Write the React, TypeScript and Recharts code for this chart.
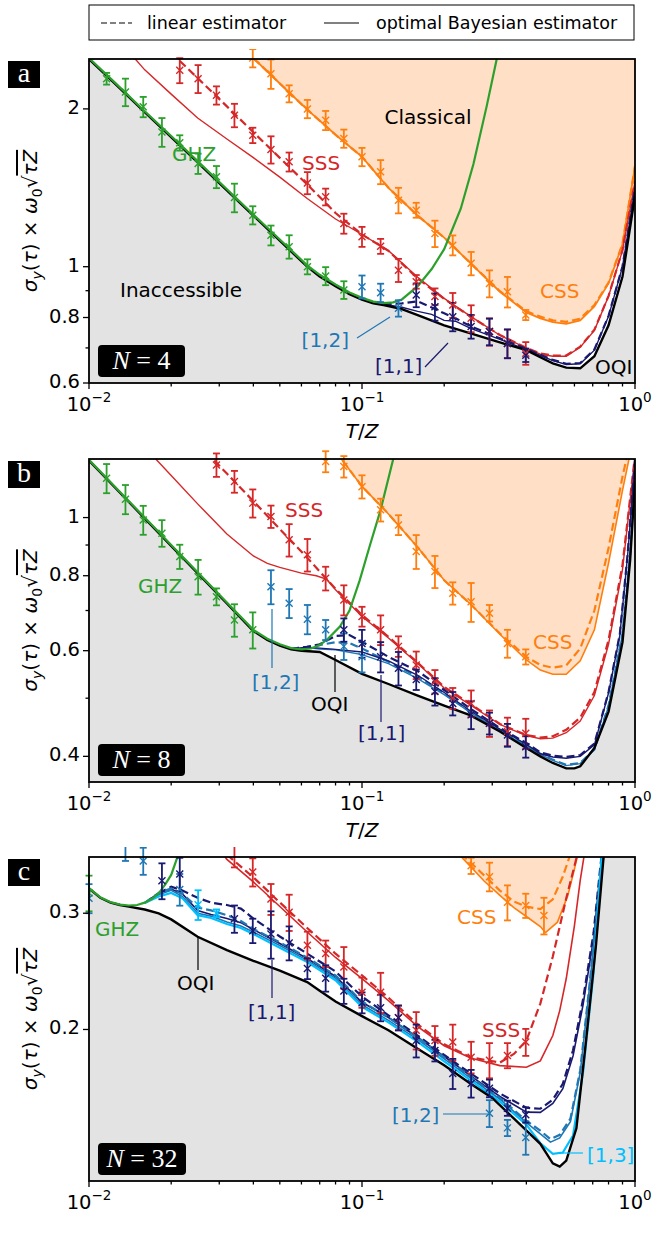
import React from 'react';
import { ComposedChart, Line, Area, Scatter, ErrorBar, XAxis, YAxis } from 'recharts';

type Pt = [number, number];
type EPt = [number, number, number];

// axis ticks
const xTicks = [0.01, 0.02, 0.03, 0.04, 0.05, 0.06, 0.07, 0.08, 0.09, 0.1, 0.2, 0.3, 0.4, 0.5, 0.6, 0.7, 0.8, 0.9, 1];
const xMajor = [0.01, 0.1, 1];
const xMajorExp = ['\u22122', '\u22121', '0'];

// ---------- panel a (N = 4) ----------
const a_ghz: Pt[] = [[0.01, 2.5], [0.0125, 2.24], [0.016, 1.98], [0.02, 1.775], [0.025, 1.59], [0.032, 1.405], [0.04, 1.258], [0.05, 1.127], [0.063, 1.006], [0.07, 0.965], [0.08, 0.925], [0.09, 0.893], [0.1, 0.872], [0.11, 0.858], [0.12, 0.852], [0.13, 0.855], [0.14, 0.866], [0.16, 0.918], [0.18, 0.99], [0.2, 1.08], [0.23, 1.29], [0.256, 1.57], [0.286, 2.02], [0.311, 2.48], [0.33, 2.9]];
const a_oqi: Pt[] = [[0.01, 2.49], [0.0125, 2.23], [0.016, 1.972], [0.02, 1.767], [0.025, 1.582], [0.032, 1.398], [0.04, 1.252], [0.05, 1.121], [0.063, 1.0], [0.07, 0.958], [0.08, 0.918], [0.09, 0.886], [0.1, 0.865], [0.11, 0.851], [0.12, 0.845], [0.14, 0.83], [0.16, 0.808], [0.2, 0.773], [0.25, 0.746], [0.32, 0.717], [0.4, 0.693], [0.45, 0.672], [0.5, 0.654], [0.56, 0.642], [0.63, 0.64], [0.71, 0.675], [0.8, 0.773], [0.9, 0.958], [1.0, 1.367]];
const a_css: Pt[] = [[0.035, 2.7], [0.04, 2.5], [0.05, 2.236], [0.063, 1.993], [0.08, 1.785], [0.1, 1.62], [0.125, 1.414], [0.16, 1.251], [0.2, 1.136], [0.25, 1.015], [0.32, 0.896], [0.4, 0.818], [0.45, 0.797], [0.5, 0.784], [0.56, 0.778], [0.63, 0.79], [0.71, 0.84], [0.8, 0.929], [0.9, 1.103], [1.0, 1.553]];
const a_cssL: Pt[] = [[0.035, 2.7], [0.04, 2.5], [0.05, 2.236], [0.063, 1.993], [0.08, 1.785], [0.1, 1.62], [0.125, 1.414], [0.16, 1.251], [0.2, 1.136], [0.25, 1.015], [0.32, 0.898], [0.4, 0.822], [0.45, 0.803], [0.5, 0.79], [0.56, 0.785], [0.63, 0.796], [0.71, 0.845], [0.8, 0.933], [0.9, 1.106], [1.0, 1.556]];
const a_sss: Pt[] = [[0.0125, 2.75], [0.016, 2.374], [0.02, 2.134], [0.025, 1.921], [0.032, 1.752], [0.04, 1.615], [0.05, 1.482], [0.063, 1.349], [0.08, 1.233], [0.1, 1.152], [0.125, 1.073], [0.16, 0.955], [0.2, 0.87], [0.25, 0.804], [0.32, 0.74], [0.4, 0.699], [0.45, 0.681], [0.5, 0.675], [0.56, 0.675], [0.63, 0.702], [0.71, 0.756], [0.8, 0.878], [0.9, 1.074], [1.0, 1.454]];
const a_sssL: Pt[] = [[0.02, 2.56], [0.025, 2.29], [0.032, 2.022], [0.04, 1.805], [0.05, 1.613], [0.063, 1.435], [0.08, 1.266], [0.1, 1.152], [0.125, 1.072], [0.16, 0.95], [0.2, 0.868], [0.25, 0.803], [0.32, 0.741], [0.4, 0.7], [0.45, 0.683], [0.5, 0.677], [0.56, 0.677], [0.63, 0.704], [0.71, 0.758], [0.8, 0.88], [0.9, 1.076], [1.0, 1.456]];
const a_11: Pt[] = [[0.12, 0.848], [0.14, 0.837], [0.16, 0.822], [0.18, 0.811], [0.2, 0.79], [0.22, 0.787], [0.25, 0.763], [0.32, 0.727], [0.4, 0.695], [0.45, 0.677], [0.5, 0.662], [0.56, 0.651], [0.63, 0.653], [0.71, 0.693], [0.8, 0.804], [0.9, 1.0], [1.0, 1.41]];
const a_11L: Pt[] = [[0.12, 0.848], [0.14, 0.851], [0.16, 0.859], [0.18, 0.836], [0.2, 0.815], [0.22, 0.797], [0.25, 0.77], [0.32, 0.73], [0.4, 0.697], [0.45, 0.679], [0.5, 0.664], [0.56, 0.653], [0.63, 0.655], [0.71, 0.695], [0.8, 0.806], [0.9, 1.002], [1.0, 1.412]];
const a_ghzP: EPt[] = [[0.0116, 2.284, 0.059], [0.0136, 2.154, 0.13], [0.0158, 2.018, 0.09], [0.0185, 1.807, 0.114], [0.0215, 1.723, 0.058], [0.0251, 1.573, 0.07], [0.0293, 1.484, 0.072], [0.0341, 1.355, 0.085], [0.0398, 1.254, 0.05], [0.0464, 1.148, 0.05], [0.0541, 1.092, 0.056], [0.0631, 1.0, 0.033], [0.0736, 0.96, 0.038], [0.0858, 0.903, 0.035]];
const a_sssP: EPt[] = [[0.0215, 2.369, 0.13], [0.0251, 2.284, 0.14], [0.0293, 2.123, 0.085], [0.0341, 1.945, 0.1], [0.0398, 1.781, 0.06], [0.0464, 1.673, 0.1], [0.0541, 1.585, 0.066], [0.0631, 1.445, 0.07], [0.0736, 1.359, 0.05], [0.0858, 1.209, 0.053], [0.1, 1.141, 0.05], [0.117, 1.094, 0.036], [0.136, 0.985, 0.05], [0.158, 0.936, 0.028], [0.185, 0.877, 0.032], [0.215, 0.845, 0.046], [0.251, 0.797, 0.047], [0.293, 0.752, 0.045], [0.341, 0.714, 0.045], [0.398, 0.684, 0.034]];
const a_cssP: EPt[] = [[0.0398, 2.5, 0.1], [0.0464, 2.334, 0.15], [0.0541, 2.138, 0.08], [0.0631, 2.0, 0.08], [0.0736, 1.902, 0.08], [0.0858, 1.756, 0.07], [0.1, 1.62, 0.065], [0.117, 1.517, 0.08], [0.136, 1.339, 0.075], [0.158, 1.282, 0.042], [0.185, 1.157, 0.067], [0.215, 1.099, 0.048], [0.251, 1.015, 0.052], [0.293, 0.929, 0.055], [0.341, 0.896, 0.06], [0.398, 0.809, 0.018]];
const a_12P: EPt[] = [[0.1, 0.916, 0.046], [0.117, 0.892, 0.036], [0.136, 0.833, 0.03]];
const a_11P: EPt[] = [[0.158, 0.883, 0.046], [0.185, 0.839, 0.05], [0.215, 0.803, 0.05], [0.251, 0.769, 0.04], [0.293, 0.752, 0.044], [0.341, 0.714, 0.045], [0.398, 0.678, 0.02]];

// ---------- panel b (N = 8) ----------
const b_ghz: Pt[] = [[0.01, 1.248], [0.0125, 1.123], [0.016, 1.0], [0.02, 0.9], [0.025, 0.811], [0.032, 0.722], [0.04, 0.65], [0.045, 0.628], [0.05, 0.615], [0.055, 0.606], [0.06, 0.603], [0.065, 0.605], [0.07, 0.613], [0.075, 0.628], [0.083, 0.658], [0.09, 0.7], [0.098, 0.785], [0.107, 0.9], [0.117, 1.03], [0.13, 1.25], [0.14, 1.42]];
const b_oqi: Pt[] = [[0.01, 1.245], [0.0125, 1.12], [0.016, 0.997], [0.02, 0.897], [0.025, 0.808], [0.032, 0.719], [0.04, 0.647], [0.045, 0.625], [0.05, 0.612], [0.055, 0.603], [0.06, 0.6], [0.07, 0.597], [0.08, 0.579], [0.1, 0.549], [0.125, 0.528], [0.16, 0.505], [0.2, 0.486], [0.25, 0.468], [0.32, 0.44], [0.4, 0.413], [0.45, 0.4], [0.5, 0.39], [0.56, 0.382], [0.6, 0.382], [0.63, 0.385], [0.71, 0.413], [0.8, 0.475], [0.9, 0.62], [0.96, 0.85], [1.0, 1.15]];
const b_css: Pt[] = [[0.08, 1.29], [0.1, 1.127], [0.125, 1.014], [0.16, 0.892], [0.2, 0.786], [0.25, 0.717], [0.32, 0.639], [0.4, 0.579], [0.45, 0.557], [0.5, 0.548], [0.56, 0.548], [0.63, 0.577], [0.71, 0.65], [0.8, 0.84], [0.9, 1.11], [1.0, 1.4]];
const b_cssL: Pt[] = [[0.08, 1.29], [0.1, 1.127], [0.125, 1.014], [0.16, 0.892], [0.2, 0.786], [0.25, 0.717], [0.32, 0.641], [0.4, 0.586], [0.45, 0.568], [0.5, 0.562], [0.56, 0.567], [0.63, 0.605], [0.71, 0.7], [0.8, 0.89], [0.9, 1.17], [1.0, 1.45]];
const b_sss: Pt[] = [[0.016, 1.31], [0.02, 1.175], [0.025, 1.054], [0.032, 0.939], [0.04, 0.863], [0.045, 0.839], [0.05, 0.826], [0.06, 0.808], [0.068, 0.8], [0.074, 0.79], [0.08, 0.758], [0.1, 0.684], [0.125, 0.63], [0.16, 0.571], [0.2, 0.52], [0.25, 0.487], [0.32, 0.452], [0.4, 0.433], [0.45, 0.428], [0.5, 0.429], [0.56, 0.438], [0.63, 0.458], [0.71, 0.505], [0.8, 0.615], [0.9, 0.82], [1.0, 1.26]];
const b_sssL: Pt[] = [[0.025, 1.33], [0.032, 1.184], [0.04, 1.065], [0.05, 0.957], [0.063, 0.857], [0.08, 0.761], [0.1, 0.688], [0.125, 0.633], [0.16, 0.573], [0.2, 0.522], [0.25, 0.489], [0.32, 0.453], [0.4, 0.434], [0.45, 0.43], [0.5, 0.432], [0.56, 0.443], [0.63, 0.464], [0.71, 0.512], [0.8, 0.625], [0.9, 0.834], [1.0, 1.27]];
const b_11: Pt[] = [[0.055, 0.604], [0.063, 0.608], [0.07, 0.606], [0.08, 0.603], [0.1, 0.597], [0.125, 0.577], [0.16, 0.546], [0.2, 0.511], [0.25, 0.476], [0.32, 0.444], [0.4, 0.419], [0.45, 0.404], [0.5, 0.399], [0.56, 0.397], [0.63, 0.4], [0.71, 0.418], [0.8, 0.51], [0.88, 0.637], [0.94, 0.867], [1.0, 1.24]];
const b_11L: Pt[] = [[0.055, 0.604], [0.063, 0.609], [0.07, 0.615], [0.08, 0.635], [0.09, 0.637], [0.1, 0.621], [0.125, 0.586], [0.16, 0.555], [0.2, 0.516], [0.25, 0.48], [0.32, 0.446], [0.4, 0.421], [0.45, 0.406], [0.5, 0.401], [0.56, 0.399], [0.63, 0.402], [0.71, 0.42], [0.8, 0.512], [0.88, 0.64], [0.94, 0.87], [1.0, 1.25]];
const b_12: Pt[] = [[0.055, 0.604], [0.063, 0.607], [0.07, 0.604], [0.08, 0.602], [0.1, 0.591], [0.125, 0.571], [0.16, 0.539], [0.2, 0.507], [0.25, 0.473], [0.32, 0.441], [0.4, 0.416], [0.45, 0.403], [0.5, 0.394], [0.56, 0.386], [0.63, 0.389], [0.71, 0.41], [0.8, 0.485], [0.9, 0.64], [0.96, 0.87], [1.0, 1.17]];
const b_12L: Pt[] = [[0.055, 0.604], [0.063, 0.609], [0.07, 0.613], [0.08, 0.62], [0.09, 0.618], [0.1, 0.605], [0.125, 0.575], [0.16, 0.543], [0.2, 0.509], [0.25, 0.474], [0.32, 0.442], [0.4, 0.417], [0.45, 0.404], [0.5, 0.395], [0.56, 0.387], [0.63, 0.39], [0.71, 0.411], [0.8, 0.486], [0.9, 0.641], [0.96, 0.871], [1.0, 1.171]];
const b_ghzP: EPt[] = [[0.0116, 1.163, 0.065], [0.0136, 1.073, 0.06], [0.0158, 0.991, 0.055], [0.0185, 0.942, 0.048], [0.0215, 0.861, 0.04], [0.0251, 0.797, 0.053], [0.0293, 0.738, 0.024], [0.0341, 0.675, 0.042], [0.0398, 0.65, 0.045]];
const b_sssP: EPt[] = [[0.0293, 1.224, 0.055], [0.0341, 1.148, 0.048], [0.0398, 1.057, 0.057], [0.0464, 1.004, 0.043], [0.0541, 0.918, 0.057], [0.0631, 0.867, 0.054], [0.0736, 0.792, 0.036], [0.0858, 0.729, 0.042], [0.1, 0.684, 0.026], [0.117, 0.65, 0.037], [0.136, 0.61, 0.024], [0.158, 0.568, 0.03], [0.185, 0.533, 0.024], [0.215, 0.5, 0.02], [0.251, 0.49, 0.025], [0.293, 0.454, 0.023], [0.341, 0.44, 0.024], [0.398, 0.437, 0.025]];
const b_cssP: EPt[] = [[0.0736, 1.24, 0.05], [0.0858, 1.216, 0.05], [0.1, 1.126, 0.05], [0.117, 1.03, 0.045], [0.136, 0.972, 0.037], [0.158, 0.878, 0.057], [0.185, 0.813, 0.05], [0.215, 0.748, 0.032], [0.251, 0.724, 0.054], [0.293, 0.693, 0.022], [0.341, 0.617, 0.033], [0.398, 0.586, 0.017]];
const b_12P: EPt[] = [[0.0464, 0.767, 0.05], [0.0541, 0.72, 0.04], [0.0631, 0.677, 0.038], [0.0736, 0.65, 0.025], [0.0858, 0.61, 0.031], [0.1, 0.586, 0.034]];
const b_11P: EPt[] = [[0.0858, 0.65, 0.029], [0.1, 0.617, 0.033], [0.117, 0.586, 0.034], [0.136, 0.561, 0.036], [0.158, 0.537, 0.021], [0.185, 0.513, 0.027], [0.215, 0.49, 0.022], [0.251, 0.469, 0.025], [0.293, 0.454, 0.019], [0.341, 0.434, 0.019], [0.398, 0.415, 0.017]];

// ---------- panel c (N = 32) ----------
const c_ghz: Pt[] = [[0.01, 0.3276], [0.011, 0.3172], [0.012, 0.3118], [0.013, 0.3092], [0.014, 0.3082], [0.015, 0.3087], [0.016, 0.3113], [0.017, 0.3155], [0.018, 0.3216], [0.019, 0.3314], [0.02, 0.3429], [0.021, 0.3633], [0.022, 0.385]];
const c_oqi: Pt[] = [[0.01, 0.3272], [0.011, 0.3166], [0.012, 0.3113], [0.013, 0.3087], [0.014, 0.307], [0.016, 0.3039], [0.018, 0.2999], [0.02, 0.2936], [0.025, 0.2764], [0.032, 0.2638], [0.04, 0.2541], [0.05, 0.2455], [0.063, 0.236], [0.07, 0.229], [0.08, 0.2205], [0.1, 0.2095], [0.125, 0.1995], [0.16, 0.187], [0.2, 0.1765], [0.25, 0.1655], [0.3, 0.1575], [0.38, 0.1435], [0.45, 0.1342], [0.5, 0.1254], [0.53, 0.124], [0.56, 0.1266], [0.61, 0.1417], [0.66, 0.1906], [0.72, 0.269], [0.765, 0.36], [0.8, 0.43], [0.9, 0.7], [1.0, 1.1]];
const c_css: Pt[] = [[0.2, 0.39], [0.22, 0.373], [0.25, 0.353], [0.28, 0.3357], [0.32, 0.3192], [0.36, 0.306], [0.4, 0.2966], [0.45, 0.2864], [0.47, 0.2805], [0.52, 0.2908], [0.567, 0.3187], [0.6, 0.35], [0.616, 0.367], [0.65, 0.4]];
const c_cssL: Pt[] = [[0.2, 0.392], [0.22, 0.375], [0.25, 0.358], [0.28, 0.3423], [0.32, 0.3247], [0.36, 0.3125], [0.4, 0.307], [0.45, 0.3044], [0.5, 0.315], [0.544, 0.341], [0.578, 0.367], [0.6, 0.39]];
const c_sss: Pt[] = [[0.03, 0.375], [0.032, 0.362], [0.04, 0.3346], [0.05, 0.3071], [0.063, 0.281], [0.08, 0.2571], [0.1, 0.2389], [0.125, 0.2212], [0.16, 0.202], [0.2, 0.189], [0.25, 0.181], [0.32, 0.1763], [0.4, 0.1753], [0.45, 0.1792], [0.5, 0.1958], [0.53, 0.2136], [0.56, 0.2389], [0.6, 0.2874], [0.63, 0.3364], [0.66, 0.38]];
const c_sssL: Pt[] = [[0.03, 0.38], [0.032, 0.368], [0.04, 0.34], [0.05, 0.3115], [0.063, 0.285], [0.08, 0.2605], [0.1, 0.2415], [0.125, 0.2235], [0.16, 0.2035], [0.2, 0.19], [0.25, 0.1815], [0.32, 0.1782], [0.36, 0.1836], [0.4, 0.1924], [0.45, 0.2189], [0.5, 0.258], [0.56, 0.316], [0.63, 0.3829]];
const c_11: Pt[] = [[0.016, 0.311], [0.018, 0.322], [0.02, 0.3263], [0.022, 0.3208], [0.025, 0.3028], [0.028, 0.2986], [0.032, 0.2945], [0.036, 0.2903], [0.04, 0.2835], [0.05, 0.2699], [0.063, 0.2562], [0.08, 0.2406], [0.1, 0.2199], [0.125, 0.2085], [0.16, 0.1945], [0.2, 0.182], [0.25, 0.1701], [0.32, 0.1583], [0.4, 0.1499], [0.45, 0.1498], [0.5, 0.1545], [0.544, 0.1627], [0.593, 0.1824], [0.645, 0.2177], [0.705, 0.2745], [0.744, 0.342], [0.77, 0.39]];
const c_11L: Pt[] = [[0.018, 0.322], [0.02, 0.329], [0.022, 0.3248], [0.025, 0.3166], [0.028, 0.3113], [0.032, 0.3087], [0.036, 0.3049], [0.04, 0.2945], [0.05, 0.2766], [0.063, 0.2606], [0.08, 0.2448], [0.1, 0.2243], [0.125, 0.2101], [0.16, 0.1958], [0.2, 0.183], [0.25, 0.1716], [0.32, 0.16], [0.4, 0.1522], [0.45, 0.1517], [0.5, 0.1566], [0.544, 0.1655], [0.593, 0.186], [0.645, 0.222], [0.705, 0.28], [0.744, 0.348], [0.77, 0.395]];
const c_12: Pt[] = [[0.016, 0.311], [0.018, 0.32], [0.02, 0.325], [0.022, 0.318], [0.025, 0.3], [0.028, 0.297], [0.032, 0.291], [0.036, 0.287], [0.04, 0.281], [0.05, 0.268], [0.063, 0.2545], [0.08, 0.239], [0.1, 0.218], [0.125, 0.2065], [0.16, 0.193], [0.2, 0.1805], [0.25, 0.1688], [0.32, 0.1568], [0.4, 0.1445], [0.45, 0.139], [0.49, 0.135], [0.53, 0.137], [0.58, 0.145], [0.63, 0.172], [0.68, 0.23], [0.74, 0.327], [0.8, 0.45]];
const c_12L: Pt[] = [[0.016, 0.311], [0.018, 0.322], [0.02, 0.327], [0.022, 0.321], [0.025, 0.306], [0.028, 0.303], [0.032, 0.298], [0.036, 0.292], [0.04, 0.284], [0.05, 0.271], [0.063, 0.257], [0.08, 0.2415], [0.1, 0.2205], [0.125, 0.2085], [0.16, 0.1945], [0.2, 0.1815], [0.25, 0.1695], [0.32, 0.1575], [0.4, 0.1455], [0.45, 0.1405], [0.49, 0.1365], [0.53, 0.1385], [0.58, 0.1465], [0.63, 0.1735], [0.68, 0.232], [0.74, 0.33], [0.8, 0.45]];
const c_13: Pt[] = [[0.016, 0.311], [0.018, 0.318], [0.02, 0.322], [0.022, 0.316], [0.025, 0.298], [0.028, 0.295], [0.032, 0.289], [0.036, 0.285], [0.04, 0.279], [0.05, 0.266], [0.063, 0.253], [0.08, 0.2375], [0.1, 0.2165], [0.125, 0.205], [0.16, 0.1915], [0.2, 0.179], [0.25, 0.1675], [0.32, 0.1555], [0.4, 0.1435], [0.45, 0.1345], [0.5, 0.1296], [0.544, 0.1302], [0.593, 0.1382], [0.645, 0.172], [0.705, 0.244], [0.755, 0.367]];
const c_ghzP: EPt[] = [[0.01, 0.322, 0.02]];
const c_sssP: EPt[] = [[0.0341, 0.372, 0.02], [0.0398, 0.3463, 0.017], [0.0464, 0.3152, 0.017], [0.0541, 0.301, 0.019], [0.0631, 0.2683, 0.013], [0.0736, 0.2607, 0.012], [0.0858, 0.2486, 0.018], [0.1, 0.2277, 0.012], [0.117, 0.2277, 0.016], [0.136, 0.2084, 0.009], [0.158, 0.1995, 0.013], [0.185, 0.1924, 0.01], [0.215, 0.1914, 0.012], [0.251, 0.1816, 0.01], [0.293, 0.1797, 0.011], [0.341, 0.1827, 0.008], [0.398, 0.1914, 0.009]];
const c_cssP: EPt[] = [[0.251, 0.354, 0.01], [0.293, 0.3408, 0.017], [0.341, 0.3116, 0.019], [0.398, 0.3081, 0.013], [0.464, 0.2976, 0.019]];
const c_11P: EPt[] = [[0.0185, 0.336, 0.021], [0.0215, 0.344, 0.02], [0.0341, 0.2942, 0.014], [0.0398, 0.2823, 0.012], [0.0464, 0.279, 0.023], [0.0541, 0.2705, 0.016], [0.0631, 0.2474, 0.009], [0.0736, 0.2392, 0.011], [0.0858, 0.2287, 0.01], [0.1, 0.2196, 0.008], [0.117, 0.2158, 0.01], [0.136, 0.2084, 0.009], [0.158, 0.1924, 0.011], [0.185, 0.1859, 0.007], [0.215, 0.1715, 0.009], [0.251, 0.1657, 0.008], [0.293, 0.1629, 0.005], [0.341, 0.152, 0.004], [0.398, 0.1485, 0.004]];
const c_12P: EPt[] = [[0.01, 0.316, 0.016], [0.0136, 0.372, 0.012], [0.0158, 0.36, 0.017], [0.0215, 0.326, 0.018], [0.293, 0.1493, 0.007], [0.341, 0.1419, 0.004], [0.398, 0.1372, 0.008]];
const c_13P: EPt[] = [[0.0251, 0.309, 0.016], [0.0293, 0.3, 0.004]];

const GREEN = '#2ca02c';
const RED = '#d62728';
const ORANGE = '#ff7f0e';
const BLUE = '#1f77b4';
const NAVY = '#191970';
const SKY = '#00bfff';
const GRAY_FILL = '#e3e3e3';
const ORANGE_FILL = '#ffdfc6';
const FONT = 'DejaVu Sans';
const TICK_FS = 19.5;

const rows = (p: Pt[]) => p.map(([t, v]) => ({ t, v }));
const erows = (p: EPt[]) => p.map(([t, v, e]) => ({ t, v, e }));

interface Curve { data: Pt[]; color: string; dashed?: boolean; w: number }
interface PanelDef {
  top: number; h: number; domain: [number, number];
  yMajor: number[]; yLabels: string[]; yMinor: number[];
  oqi: Pt[]; css: Pt[]; curves: Curve[]; points: { data: EPt[]; color: string }[];
  axisH: number;
}

const panels: PanelDef[] = [
  {
    top: 59, h: 324, domain: [0.6, 2.49], yMajor: [0.6, 0.8, 1, 2], yLabels: ['0.6', '0.8', '1', '2'], yMinor: [0.7, 0.9],
    oqi: a_oqi, css: a_css, axisH: 60,
    curves: [
      { data: a_css, color: ORANGE, w: 1.8 }, { data: a_cssL, color: ORANGE, dashed: true, w: 2.2 },
      { data: a_sss, color: RED, w: 1.4 }, { data: a_sssL, color: RED, dashed: true, w: 2.2 },
      { data: a_11, color: NAVY, w: 1.4 }, { data: a_11L, color: NAVY, dashed: true, w: 2.2 },
      { data: a_oqi, color: '#000', w: 2.4 }, { data: a_ghz, color: GREEN, w: 2.2 },
    ],
    points: [{ data: a_ghzP, color: GREEN }, { data: a_cssP, color: ORANGE }, { data: a_sssP, color: RED }, { data: a_12P, color: BLUE }, { data: a_11P, color: NAVY }],
  },
  {
    top: 459, h: 323, domain: [0.3625, 1.252], yMajor: [0.4, 0.6, 0.8, 1], yLabels: ['0.4', '0.6', '0.8', '1'], yMinor: [0.5, 0.7, 0.9],
    oqi: b_oqi, css: b_css, axisH: 60,
    curves: [
      { data: b_css, color: ORANGE, w: 1.6 }, { data: b_cssL, color: ORANGE, dashed: true, w: 2.2 },
      { data: b_sss, color: RED, w: 1.4 }, { data: b_sssL, color: RED, dashed: true, w: 2.2 },
      { data: b_12, color: BLUE, w: 1.4 }, { data: b_12L, color: BLUE, dashed: true, w: 2.2 },
      { data: b_11, color: NAVY, w: 1.4 }, { data: b_11L, color: NAVY, dashed: true, w: 2.2 },
      { data: b_oqi, color: '#000', w: 2.4 }, { data: b_ghz, color: GREEN, w: 2.2 },
    ],
    points: [{ data: b_ghzP, color: GREEN }, { data: b_cssP, color: ORANGE }, { data: b_sssP, color: RED }, { data: b_12P, color: BLUE }, { data: b_11P, color: NAVY }],
  },
  {
    top: 857, h: 324, domain: [0.1179, 0.365], yMajor: [0.2, 0.3], yLabels: ['0.2', '0.3'], yMinor: [],
    oqi: c_oqi, css: c_css, axisH: 50,
    curves: [
      { data: c_css, color: ORANGE, w: 1.6 }, { data: c_cssL, color: ORANGE, dashed: true, w: 2.2 },
      { data: c_sss, color: RED, w: 1.6 }, { data: c_sssL, color: RED, dashed: true, w: 2.2 },
      { data: c_11, color: NAVY, w: 1.6 }, { data: c_11L, color: NAVY, dashed: true, w: 2.2 },
      { data: c_12, color: BLUE, w: 1.6 }, { data: c_12L, color: BLUE, dashed: true, w: 2.2 },
      { data: c_13, color: SKY, w: 2.2 },
      { data: c_oqi, color: '#000', w: 2.4 }, { data: c_ghz, color: GREEN, w: 2.2 },
    ],
    points: [{ data: c_ghzP, color: GREEN }, { data: c_cssP, color: ORANGE }, { data: c_sssP, color: RED }, { data: c_12P, color: BLUE }, { data: c_13P, color: SKY }, { data: c_11P, color: NAVY }],
  },
];

const isMajorX = (v: number) => xMajor.findIndex((m) => Math.abs(m - v) < 1e-9);

const XTick = ({ x, y, payload }: any) => {
  const i = isMajorX(payload.value);
  return (
    <g>
      <line x1={x} x2={x} y1={y} y2={y + (i >= 0 ? 6 : 3.5)} stroke="#000" strokeWidth={1.3} />
      {i >= 0 && (
        <text x={x} y={y + 28} textAnchor="middle" fontSize={TICK_FS} fontFamily={FONT} fill="#000">
          10<tspan dy={-9} fontSize={13.5}>{xMajorExp[i]}</tspan>
        </text>
      )}
    </g>
  );
};

const makeYTick = (p: PanelDef) => ({ x, y, payload }: any) => {
  const i = p.yMajor.findIndex((m) => Math.abs(m - payload.value) < 1e-9);
  return (
    <g>
      <line x1={x - (i >= 0 ? 6 : 3.5)} x2={x} y1={y} y2={y} stroke="#000" strokeWidth={1.3} />
      {i >= 0 && (
        <text x={x - 9} y={y + 5} textAnchor="end" fontSize={TICK_FS} fontFamily={FONT} fill="#000">{p.yLabels[i]}</text>
      )}
    </g>
  );
};

const Cross = ({ cx, cy, color }: any) => (
  <path d={`M${cx - 3.5},${cy - 3.5}L${cx + 3.5},${cy + 3.5}M${cx - 3.5},${cy + 3.5}L${cx + 3.5},${cy - 3.5}`} stroke={color} strokeWidth={1.4} fill="none" />
);

const PanelChart = ({ p }: { p: PanelDef }) => (
  <div style={{ position: 'absolute', left: 0, top: p.top - 10 }}>
    <ComposedChart width={652} height={10 + p.h + p.axisH} margin={{ top: 10, right: 17, bottom: 0, left: 0 }}>
      <XAxis type="number" dataKey="t" scale="log" domain={[0.01, 1]} allowDataOverflow ticks={xTicks} interval={0}
        tick={(props: any) => <XTick {...props} />} tickLine={false} axisLine={false} tickSize={0} tickMargin={0} height={p.axisH} />
      <YAxis type="number" dataKey="v" scale="log" domain={p.domain} allowDataOverflow ticks={[...p.yMajor, ...p.yMinor]} interval={0}
        tick={makeYTick(p)} tickLine={false} axisLine={false} tickSize={0} tickMargin={0} width={89} />
      <Area data={rows(p.oqi)} dataKey="v" type="linear" fill={GRAY_FILL} fillOpacity={1} stroke="none" isAnimationActive={false} />
      <Area data={rows(p.css)} dataKey="v" type="linear" baseValue="dataMax" fill={ORANGE_FILL} fillOpacity={1} stroke="none" isAnimationActive={false} />
      {p.curves.map((c, i) => (
        <Line key={i} data={rows(c.data)} dataKey="v" type="linear" stroke={c.color} strokeWidth={c.w}
          strokeDasharray={c.dashed ? '8 4' : undefined} dot={false} activeDot={false} isAnimationActive={false} />
      ))}
      {p.points.map((s, i) => (
        <Scatter key={'s' + i} data={erows(s.data)} dataKey="v" fill={s.color} isAnimationActive={false}
          shape={(props: any) => <Cross {...props} color={s.color} />}>
          <ErrorBar dataKey="e" direction="y" width={3.5} stroke={s.color} strokeWidth={1.8} />
        </Scatter>
      ))}
    </ComposedChart>
  </div>
);

const YLabel = ({ cy }: { cy: number }) => (
  <text transform={`translate(37,${cy}) rotate(-90)`} textAnchor="middle" fontSize={20} fontFamily={FONT} fill="#000">
    <tspan fontStyle="italic">σ</tspan>
    <tspan fontStyle="italic" fontSize={14} dy={5}>y</tspan>
    <tspan dy={-5}>(</tspan>
    <tspan fontStyle="italic">τ</tspan>
    <tspan>{') × '}</tspan>
    <tspan fontStyle="italic">ω</tspan>
    <tspan fontSize={14} dy={5}>0</tspan>
    <tspan dy={-5}>√</tspan>
    <tspan fontStyle="italic" style={{ textDecoration: 'overline' }}>τZ</tspan>
  </text>
);

const notes = [
  { s: 'Classical', x: 428, y: 124, c: '#000', a: 'middle' },
  { s: 'SSS', x: 302, y: 170, c: RED, a: 'start' },
  { s: 'GHZ', x: 172, y: 161, c: GREEN, a: 'start' },
  { s: 'Inaccessible', x: 120, y: 297, c: '#000', a: 'start' },
  { s: 'CSS', x: 540, y: 298, c: ORANGE, a: 'start' },
  { s: 'OQI', x: 595, y: 374, c: '#000', a: 'start' },
  { s: '[1,2]', x: 349, y: 347, c: BLUE, a: 'end' },
  { s: '[1,1]', x: 375, y: 373, c: NAVY, a: 'start' },
  { s: 'SSS', x: 285, y: 517, c: RED, a: 'start' },
  { s: 'GHZ', x: 138, y: 593, c: GREEN, a: 'start' },
  { s: '[1,2]', x: 252, y: 689, c: BLUE, a: 'start' },
  { s: 'OQI', x: 311, y: 711, c: '#000', a: 'start' },
  { s: '[1,1]', x: 358, y: 740, c: NAVY, a: 'start' },
  { s: 'CSS', x: 533, y: 649, c: ORANGE, a: 'start' },
  { s: 'GHZ', x: 95, y: 936, c: GREEN, a: 'start' },
  { s: 'OQI', x: 177, y: 990, c: '#000', a: 'start' },
  { s: '[1,1]', x: 248, y: 1019, c: NAVY, a: 'start' },
  { s: 'CSS', x: 457, y: 924, c: ORANGE, a: 'start' },
  { s: 'SSS', x: 482, y: 1037, c: RED, a: 'start' },
  { s: '[1,2]', x: 392, y: 1122, c: BLUE, a: 'start' },
  { s: '[1,3]', x: 587, y: 1162, c: SKY, a: 'start' },
];

const leaders = [
  { x1: 357, y1: 338, x2: 390, y2: 317, c: BLUE },
  { x1: 425, y1: 367, x2: 448, y2: 343, c: NAVY },
  { x1: 272, y1: 609, x2: 272, y2: 668, c: BLUE },
  { x1: 335, y1: 655, x2: 335, y2: 692, c: '#000' },
  { x1: 381, y1: 675, x2: 381, y2: 722, c: NAVY },
  { x1: 198, y1: 937, x2: 198, y2: 970, c: '#000' },
  { x1: 272, y1: 960, x2: 272, y2: 998, c: NAVY },
  { x1: 443, y1: 1114, x2: 488, y2: 1114, c: BLUE },
  { x1: 560, y1: 1153, x2: 583, y2: 1153, c: SKY },
];

const panelTags = ['a', 'b', 'c'];
const panelN = ['4', '8', '32'];

const Overlay = () => (
  <svg width={652} height={1240} style={{ position: 'absolute', left: 0, top: 0, pointerEvents: 'none' }}>
    {/* legend */}
    <rect x={89} y={5} width={545} height={35} fill="#fff" stroke="#000" strokeWidth={1} />
    <line x1={101} x2={132} y1={23} y2={23} stroke="#808080" strokeWidth={2} strokeDasharray="6 3" />
    <text x={147} y={29} fontSize={17.5} fontFamily={FONT} fill="#000">linear estimator</text>
    <line x1={324} x2={359} y1={23} y2={23} stroke="#808080" strokeWidth={2} />
    <text x={376} y={29} fontSize={17.5} fontFamily={FONT} fill="#000">optimal Bayesian estimator</text>

    {panels.map((p, i) => (
      <g key={i}>
        <rect x={89} y={p.top} width={546} height={p.h} fill="none" stroke="#000" strokeWidth={1.8} />
        <YLabel cy={p.top + p.h / 2} />
        {i < 2 && (
          <text x={362} y={p.top + p.h + 55} textAnchor="middle" fontSize={20} fontFamily={FONT} fill="#000">
            <tspan fontStyle="italic">T</tspan>/<tspan fontStyle="italic">Z</tspan>
          </text>
        )}
        <rect x={8} y={p.top + 2} width={32} height={27} fill="#000" />
        <text x={24} y={p.top + 23} textAnchor="middle" fontSize={28} fontFamily="Liberation Serif" fill="#fff">{panelTags[i]}</text>
        <rect x={98} y={p.top + p.h - 38} width={i === 2 ? 88 : 87} height={32} rx={4} fill="#000" />
        <text x={i === 2 ? 142 : 141.5} y={p.top + p.h - 14} textAnchor="middle" fontSize={26} fontFamily="Liberation Serif" fill="#fff">
          <tspan fontStyle="italic">N</tspan>{' = ' + panelN[i]}
        </text>
      </g>
    ))}

    {leaders.map((l, i) => (
      <line key={'l' + i} x1={l.x1} y1={l.y1} x2={l.x2} y2={l.y2} stroke={l.c} strokeWidth={1.2} />
    ))}
    {notes.map((n, i) => (
      <text key={'n' + i} x={n.x} y={n.y} textAnchor={n.a as any} fontSize={20} fontFamily={FONT} fill={n.c}>{n.s}</text>
    ))}
  </svg>
);

export default function App() {
  return (
    <div style={{ position: 'absolute', left: 0, top: 0, width: 652, height: 1240, background: '#fff' }}>
      {panels.map((p, i) => <PanelChart key={i} p={p} />)}
      <Overlay />
    </div>
  );
}
